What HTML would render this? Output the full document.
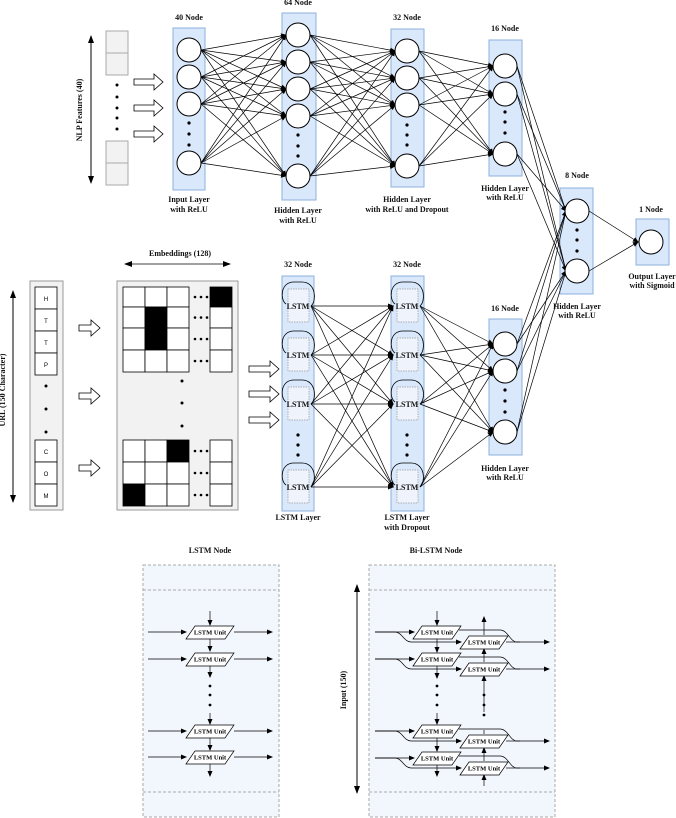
<!DOCTYPE html>
<html><head><meta charset="utf-8"><style>
html,body{margin:0;padding:0;background:#fff;}
svg{display:block;font-family:"Liberation Serif",serif;}
.t{font-weight:bold;font-size:8px;text-anchor:middle;fill:#111;}
</style></head><body>
<svg id="s" width="676" height="818" viewBox="0 0 676 818" xmlns="http://www.w3.org/2000/svg">
<defs>
<marker id="a" markerWidth="6" markerHeight="6" refX="5" refY="3" orient="auto" markerUnits="userSpaceOnUse"><path d="M0,0.5 L6,3 L0,5.5 z" fill="#000"/></marker>
<marker id="b" markerWidth="8" markerHeight="8" refX="7" refY="4" orient="auto-start-reverse" markerUnits="userSpaceOnUse"><path d="M0,1 L8,4 L0,7 z" fill="#000"/></marker>
</defs>
<g id="bg"></g>
<g id="ln" stroke="#000" stroke-width="0.7" fill="none"></g>
<g id="fg"></g>
</svg>
<script>
const NS="http://www.w3.org/2000/svg";
const bg=document.getElementById('bg'),ln=document.getElementById('ln'),fg=document.getElementById('fg');
function el(p,tag,at,txt){const e=document.createElementNS(NS,tag);for(const k in at)e.setAttribute(k,at[k]);if(txt!==undefined)e.textContent=txt;p.appendChild(e);return e;}
function rect(p,x,y,w,h,f,s,extra){return el(p,'rect',Object.assign({x,y,width:w,height:h,fill:f,stroke:s,'stroke-width':1},extra||{}));}
function text(x,y,s,size,extra){return el(fg,'text',Object.assign({x,y,class:'t','font-size':size||8},extra||{}),s);}
function circ(cx,cy,r){el(fg,'circle',{cx,cy,r:r||12,fill:'#fff',stroke:'#000','stroke-width':1});}
function dot(cx,cy,r){el(fg,'circle',{cx,cy,r:r||1.6,fill:'#000'});}
function line(x1,y1,x2,y2,m,w){const a={x1,y1,x2,y2};if(m)a['marker-end']='url(#'+m+')';if(w)a['stroke-width']=w;el(ln,'line',a);}
function mesh(A,B,xa,xb,m){A.forEach(a=>B.forEach(b=>line(xa,a,xb,b,m===undefined?'a':m)));}
function block(x,y,w,h){rect(bg,x,y,w,h,'#dae8fc','#8eb0dc',{'stroke-width':1});}
function outArrow(x,y,w){el(fg,'path',{d:`M${x},${y-3} L${x+w-9},${y-3} L${x+w-9},${y-8} L${x+w},${y} L${x+w-9},${y+8} L${x+w-9},${y+3} L${x},${y+3} z`,fill:'#fff',stroke:'#000','stroke-width':0.8});}

// ===== Top network =====
el(ln,'line',{x1:91,y1:36,x2:91,y2:183,'marker-end':'url(#b)','marker-start':'url(#b)','stroke-width':1});
text(82,110,'NLP Features (40)',7,{transform:'rotate(-90 82 110)'});
[[31,22],[53,22],[141,22],[163,22]].forEach(c=>rect(bg,106,c[0],22,c[1],'#f2f2f2','#aaa'));
[85,97,108,118,129].forEach(y=>dot(117,y,1.5));
[82,108,134].forEach(y=>outArrow(134,y,29));

const L1=[50,77,104,163],L2=[35,62,89,116,176],L3=[51,78,105,166],L4=[66,94,154],L5=[211,271];
block(173,28,32,162);block(282,13,34,187);block(391,29,33,158);block(489,40,33,136);block(560,188,33,106);block(636,219,33,46);
mesh(L1,L2,201,286);mesh(L2,L3,310,395);mesh(L3,L4,419,493);
L1.forEach(y=>circ(189,y));[123,134,145].forEach(y=>dot(189,y));
L2.forEach(y=>circ(298,y));[135,146,156].forEach(y=>dot(298,y));
L3.forEach(y=>circ(407,y));[125,135,145].forEach(y=>dot(407,y));
L4.forEach(y=>circ(505,y));[112,122,133].forEach(y=>dot(505,y));
L5.forEach(y=>circ(577,y));[230,240,251].forEach(y=>dot(577,y));
circ(651,242);
text(189,20,'40 Node');text(298,5,'64 Node');text(407,20,'32 Node');text(505,31,'16 Node');text(577,178,'8 Node');text(651,212,'1 Node');
text(189,202,'Input Layer');text(189,212,'with ReLU');
text(298,213,'Hidden Layer');text(298,223,'with ReLU');
text(407,202,'Hidden Layer');text(407,212,'with ReLU and Dropout');
text(505,191,'Hidden Layer');text(505,200,'with ReLU');
text(577,309,'Hidden Layer');text(577,318,'with ReLU');
text(652,279,'Output Layer',7.5);text(652,288,'with Sigmoid',7.5);

// ===== Bottom network =====
el(ln,'line',{x1:13,y1:291,x2:13,y2:502,'marker-end':'url(#b)','marker-start':'url(#b)','stroke-width':1});
text(5,390,'URL (150 Character)',7,{transform:'rotate(-90 5 390)'});
rect(bg,30,281,33,229,'#f2f2f2','#999');
const chars=[['H',287],['T',309],['T',331],['P',353],['C',440],['O',462],['M',484]];
chars.forEach(c=>{rect(fg,35,c[1],22,22,'#fff','#000',{'stroke-width':0.8});el(fg,'text',{x:46,y:c[1]+14,'font-size':6,'text-anchor':'middle','font-family':'Liberation Sans,sans-serif'},c[0]);});
[386,409,432].forEach(y=>dot(46,y,1.5));
[328,396,468].forEach(y=>outArrow(79,y,21));
el(ln,'line',{x1:125,y1:264,x2:230,y2:264,'marker-end':'url(#b)','marker-start':'url(#b)','stroke-width':0.8});
text(180,256,'Embeddings (128)');
rect(bg,117,281,121,229,'#f2f2f2','#999');
function grid(rows,blacks){rows.forEach((r,ri)=>{[123,145,167].forEach((x,ci)=>{const bl=blacks.some(b=>b[0]==ri&&b[1]==ci);rect(fg,x,r[0],22,r[1],bl?'#000':'#fff','#000',{'stroke-width':0.8});});const bl=blacks.some(b=>b[0]==ri&&b[1]==3);rect(fg,210,r[0],22,r[1],bl?'#000':'#fff','#000',{'stroke-width':0.8});[195,201,207].forEach(x=>dot(x,r[0]+r[1]/2,1.3));});}
grid([[287,20],[307,21],[328,22],[350,22]],[[0,3],[1,1],[2,1]]);
grid([[440,22],[462,22],[484,22]],[[0,2],[2,0]]);
[381,403,426].forEach(y=>dot(182,y,1.5));
[369,394,420].forEach(y=>outArrow(249,y,30));

block(282,276,32,235);block(391,276,33,235);block(489,319,33,136);
const S=[306,355,404,487],B=[344,371,432];
mesh(S,S,311,393);mesh(S,B,420,493);
mesh(L4,L5,517,566);mesh(B,L5,517,566);
L5.forEach(y=>line(589,y,638,242,'a'));
function lstm(cx,y){
 rect(fg,cx-10,y-17,21,33,'#eef3fc','#999',{'stroke-width':0.7,'stroke-dasharray':'1.5,1'});
 el(fg,'path',{d:`M${cx+13},${y} C${cx+19},${y-5} ${cx+18},${y-24} ${cx+4},${y-24} L${cx-4},${y-24} C${cx-18},${y-24} ${cx-18},${y-6} ${cx-12},${y-2}`,fill:'none',stroke:'#000','stroke-width':0.8});
 el(fg,'text',{x:cx,y:y+3,'font-size':8,'text-anchor':'middle','font-weight':'bold',fill:'#111'},'LSTM');
}
S.forEach(y=>{lstm(298,y);lstm(407,y);});
[435,445,455].forEach(y=>{dot(298,y);dot(407,y);});
B.forEach(y=>circ(505,y));[390,401,412].forEach(y=>dot(505,y));
text(298,267,'32 Node');text(407,267,'32 Node');text(505,311,'16 Node');
text(298,520,'LSTM Layer');text(407,520,'LSTM Layer');text(407,530,'with Dropout');
text(505,471,'Hidden Layer');text(505,480,'with ReLU');

// ===== LSTM node panels =====
text(210,553,'LSTM Node');text(436,553,'Bi-LSTM Node');
function panel(x,w){rect(bg,x,565,w,252,'#f2f6fd','#aaa',{'stroke-dasharray':'3,2'});
 el(bg,'line',{x1:x,y1:590,x2:x+w,y2:590,stroke:'#aaa','stroke-dasharray':'3,2'});
 el(bg,'line',{x1:x,y1:792,x2:x+w,y2:792,stroke:'#aaa','stroke-dasharray':'3,2'});}
panel(143,136);panel(369,186);
function unit(cx,y){el(fg,'polygon',{points:`${cx-24},${y+7} ${cx-15},${y-6} ${cx+24},${y-6} ${cx+15},${y+7}`,fill:'#fff',stroke:'#000','stroke-width':0.7});
 el(fg,'text',{x:cx,y:y+2.5,'font-size':6.5,'text-anchor':'middle','font-weight':'bold'},'LSTM Unit');}
const U=[632,659,731,757];
U.forEach(y=>{line(148,y,186,y,'a');line(234,y,272,y,'a');});
line(210,611,210,625,'a');line(210,639,210,651,'a');line(210,666,210,677,'a');line(210,713,210,724,'a');line(210,738,210,750,'a');line(210,764,210,776,'a');
U.forEach(y=>unit(210,y));
[686,695,705].forEach(y=>dot(210,y,1.4));
el(ln,'line',{x1:357,y1:585,x2:357,y2:793,'marker-end':'url(#b)','marker-start':'url(#b)','stroke-width':1});
text(346,690,'Input (150)',8,{transform:'rotate(-90 346 690)'});
const F=[632,659,731,758];
F.forEach(y=>{const yb=y+10;
 line(375,y,414,y,'a');
 el(ln,'path',{d:`M375,${y} L395,${y} C402,${y} 404,${yb} 411,${yb} L461,${yb}`,'marker-end':'url(#a)'});
 el(ln,'path',{d:`M459,${y-2} L500,${y-2} C508,${y-2} 510,${yb} 517,${yb} L549,${yb}`,'marker-end':'url(#a)'});
 line(506,yb,520,yb);
});
line(437,611,437,625,'a');line(437,639,437,652,'a');line(437,666,437,678,'a');line(437,713,437,724,'a');line(437,738,437,751,'a');line(437,765,437,776,'a');
line(484,635,484,617,'a');line(484,662,484,649,'a');line(484,712,484,676,'a');line(484,761,484,748,'a');line(484,786,484,775,'a');line(484,734,484,730);
F.forEach(y=>{unit(437,y);unit(484,y+10);});
[686,695,705].forEach(y=>dot(437,y,1.4));[695,705,715].forEach(y=>dot(484,y,1.4));
</script>
</body></html>
